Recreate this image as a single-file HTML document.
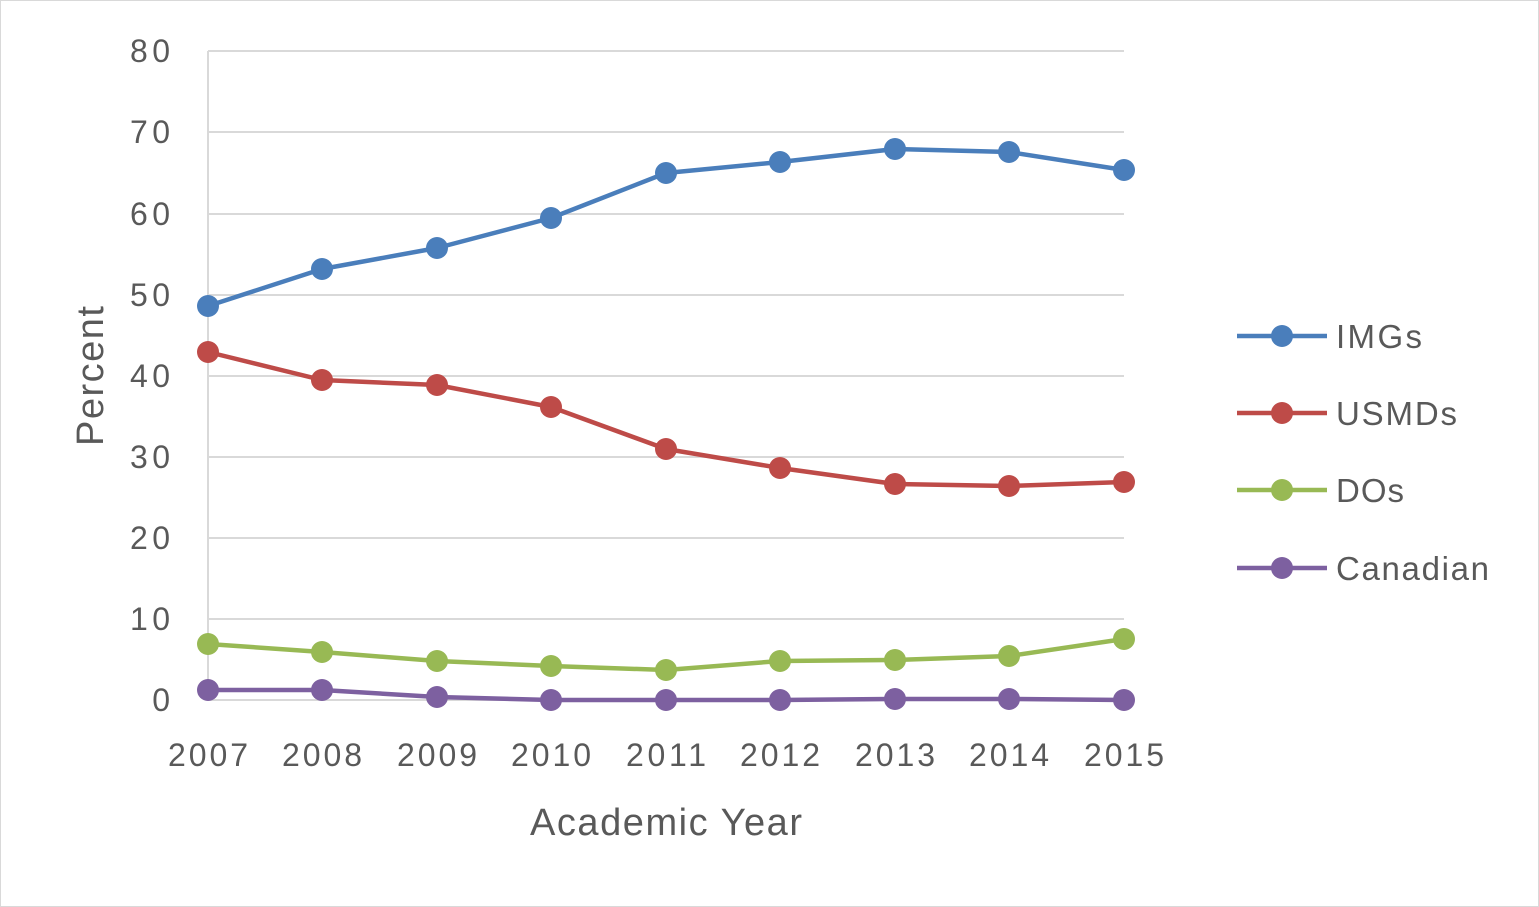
<!DOCTYPE html>
<html><head><meta charset="utf-8"><style>
html,body{margin:0;padding:0;background:#fff;}
svg{display:block;font-family:"Liberation Sans",sans-serif;}
</style></head><body>
<svg width="1539" height="907" viewBox="0 0 1539 907">
<rect x="0.5" y="0.5" width="1538" height="906" fill="#fff" stroke="#d9d9d9"/>
<g stroke="#d9d9d9" stroke-width="2">
<line x1="208" y1="51" x2="1124" y2="51"/>
<line x1="208" y1="132" x2="1124" y2="132"/>
<line x1="208" y1="214" x2="1124" y2="214"/>
<line x1="208" y1="295" x2="1124" y2="295"/>
<line x1="208" y1="376" x2="1124" y2="376"/>
<line x1="208" y1="457" x2="1124" y2="457"/>
<line x1="208" y1="538" x2="1124" y2="538"/>
<line x1="208" y1="619" x2="1124" y2="619"/>
<line x1="208" y1="700" x2="1124" y2="700"/>
<line x1="208" y1="51" x2="208" y2="700"/>
</g>
<g fill="#595959" font-size="32" text-anchor="end">
<text x="170" y="62" textLength="40">80</text><text x="170" y="143" textLength="40">70</text><text x="170" y="225" textLength="40">60</text>
<text x="170" y="306" textLength="40">50</text><text x="170" y="387" textLength="40">40</text><text x="170" y="468" textLength="40">30</text>
<text x="170" y="549" textLength="40">20</text><text x="170" y="630" textLength="40">10</text><text x="170" y="711">0</text>
</g>
<g fill="#595959" font-size="32" text-anchor="middle">
<text x="208" y="766" textLength="80">2007</text><text x="322" y="766" textLength="80">2008</text><text x="437" y="766" textLength="80">2009</text>
<text x="551" y="766" textLength="80">2010</text><text x="666" y="766" textLength="80">2011</text><text x="780" y="766" textLength="80">2012</text>
<text x="895" y="766" textLength="80">2013</text><text x="1009" y="766" textLength="80">2014</text><text x="1124" y="766" textLength="80">2015</text>
<text x="666" y="835" font-size="38" textLength="272">Academic Year</text>
<text x="0" y="0" font-size="38" textLength="140" transform="translate(103,376) rotate(-90)">Percent</text>
</g>
<g fill="none" stroke-width="4.5" stroke-linejoin="round">
<polyline stroke="#4a7ebb" points="208,306 322,269 437,248 551,218 666,173 780,162 895,149 1009,152 1124,170"/>
<polyline stroke="#be4b48" points="208,352 322,380 437,385 551,407 666,449 780,468 895,484 1009,486 1124,482"/>
<polyline stroke="#98b954" points="208,644 322,652 437,661 551,666 666,670 780,661 895,660 1009,656 1124,639"/>
<polyline stroke="#7d60a0" points="208,690 322,690 437,697 551,700 666,700 780,700 895,699 1009,699 1124,700"/>
</g>
<g fill="#4a7ebb"><circle cx="208" cy="306" r="11"/><circle cx="322" cy="269" r="11"/><circle cx="437" cy="248" r="11"/><circle cx="551" cy="218" r="11"/><circle cx="666" cy="173" r="11"/><circle cx="780" cy="162" r="11"/><circle cx="895" cy="149" r="11"/><circle cx="1009" cy="152" r="11"/><circle cx="1124" cy="170" r="11"/></g>
<g fill="#be4b48"><circle cx="208" cy="352" r="11"/><circle cx="322" cy="380" r="11"/><circle cx="437" cy="385" r="11"/><circle cx="551" cy="407" r="11"/><circle cx="666" cy="449" r="11"/><circle cx="780" cy="468" r="11"/><circle cx="895" cy="484" r="11"/><circle cx="1009" cy="486" r="11"/><circle cx="1124" cy="482" r="11"/></g>
<g fill="#98b954"><circle cx="208" cy="644" r="11"/><circle cx="322" cy="652" r="11"/><circle cx="437" cy="661" r="11"/><circle cx="551" cy="666" r="11"/><circle cx="666" cy="670" r="11"/><circle cx="780" cy="661" r="11"/><circle cx="895" cy="660" r="11"/><circle cx="1009" cy="656" r="11"/><circle cx="1124" cy="639" r="11"/></g>
<g fill="#7d60a0"><circle cx="208" cy="690" r="11"/><circle cx="322" cy="690" r="11"/><circle cx="437" cy="697" r="11"/><circle cx="551" cy="700" r="11"/><circle cx="666" cy="700" r="11"/><circle cx="780" cy="700" r="11"/><circle cx="895" cy="699" r="11"/><circle cx="1009" cy="699" r="11"/><circle cx="1124" cy="700" r="11"/></g>
<g stroke-width="4.5">
<line x1="1237" y1="336" x2="1327" y2="336" stroke="#4a7ebb"/><circle cx="1282" cy="336" r="11" fill="#4a7ebb"/>
<line x1="1237" y1="413" x2="1327" y2="413" stroke="#be4b48"/><circle cx="1282" cy="413" r="11" fill="#be4b48"/>
<line x1="1237" y1="490" x2="1327" y2="490" stroke="#98b954"/><circle cx="1282" cy="490" r="11" fill="#98b954"/>
<line x1="1237" y1="568" x2="1327" y2="568" stroke="#7d60a0"/><circle cx="1282" cy="568" r="11" fill="#7d60a0"/>
</g>
<g fill="#595959" font-size="33">
<text x="1336" y="348" textLength="86">IMGs</text><text x="1336" y="425" textLength="121">USMDs</text>
<text x="1336" y="502" textLength="68">DOs</text><text x="1336" y="580" textLength="153">Canadian</text>
</g>
</svg>
</body></html>
